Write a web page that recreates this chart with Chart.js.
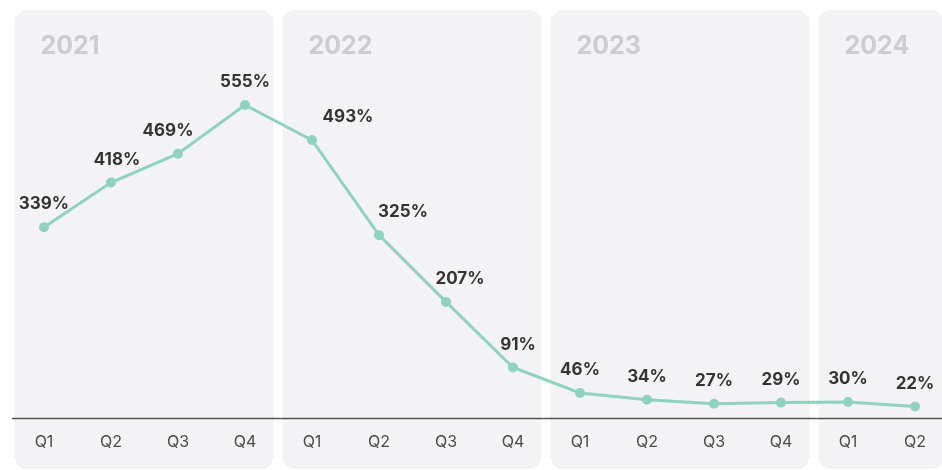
<!DOCTYPE html>
<html>
<head>
<meta charset="utf-8">
<script src="https://cdn.jsdelivr.net/npm/chart.js@4.4.1/dist/chart.umd.min.js"></script>
<style>
  html, body { margin: 0; padding: 0; background: #fff; }
  canvas { display: block; }
</style>
</head>
<body>
<canvas id="growthChart" width="942" height="470"></canvas>
<script>
// quarterly growth, one entry per quarter
const quarters = ['Q1', 'Q2', 'Q3', 'Q4', 'Q1', 'Q2', 'Q3', 'Q4', 'Q1', 'Q2', 'Q3', 'Q4', 'Q1', 'Q2'];
const years = ['2021', '2021', '2021', '2021', '2022', '2022', '2022', '2022', '2023', '2023', '2023', '2023', '2024', '2024'];
const growth = [339, 418, 469, 555, 493, 325, 207, 91, 46, 34, 27, 29, 30, 22];

// small sideways nudges so a few labels don't sit on the line
const labelShift = [0, 6, -10, 0, 36, 24, 14, 5, 0, 0, 0, 0, 0, 0];

const FONT = 'Inter, "Noto Sans", sans-serif';
const teal = '#8fd3bf';

// grey rounded panel behind each year + the baseline
const yearPanels = {
  id: 'yearPanels',
  beforeDraw(chart) {
    const { ctx, scales: { x } } = chart;
    const step = x.getPixelForValue(1) - x.getPixelForValue(0);
    const groups = [];
    years.forEach((y, i) => {
      const last = groups[groups.length - 1];
      if (last && last.year === y) last.end = i;
      else groups.push({ year: y, start: i, end: i });
    });
    ctx.save();
    groups.forEach(g => {
      const left = x.getPixelForValue(g.start) - step / 2 + 4;
      const right = x.getPixelForValue(g.end) + step / 2 - 5;
      ctx.fillStyle = '#f3f3f5';
      ctx.beginPath();
      ctx.roundRect(left, 10, right - left, 459, 12);
      ctx.fill();
      ctx.fillStyle = '#cdcdcf';
      ctx.font = 'bold 25px ' + FONT;
      ctx.textBaseline = 'middle';
      ctx.textAlign = 'left';
      ctx.fillText(g.year, left + 26, 46);
    });
    ctx.strokeStyle = '#555';
    ctx.lineWidth = 1.5;
    ctx.beginPath();
    ctx.moveTo(12, 418.5);
    ctx.lineTo(942, 418.5);
    ctx.stroke();
    ctx.restore();
  }
};

// percentage labels above each point
const valueLabels = {
  id: 'valueLabels',
  afterDatasetsDraw(chart) {
    const { ctx } = chart;
    const pts = chart.getDatasetMeta(0).data;
    ctx.save();
    ctx.fillStyle = '#333';
    ctx.font = 'bold 17px ' + FONT;
    ctx.textAlign = 'center';
    ctx.textBaseline = 'middle';
    pts.forEach((p, i) => {
      ctx.fillText(growth[i] + '%', p.x + labelShift[i], p.y - 23);
    });
    ctx.restore();
  }
};

const ctx = document.getElementById('growthChart').getContext('2d');
new Chart(ctx, {
  type: 'line',
  data: {
    labels: quarters,
    datasets: [{
      data: growth,
      borderColor: teal,
      backgroundColor: teal,
      borderWidth: 3,
      pointRadius: 5,
      pointBackgroundColor: teal,
      pointBorderWidth: 0,
      tension: 0
    }]
  },
  options: {
    responsive: false,
    animation: false,
    layout: { padding: { left: 44, right: 27, top: 23, bottom: 0 } },
    plugins: { legend: { display: false }, tooltip: { enabled: false } },
    scales: {
      x: {
        offset: false,
        grid: { display: false, drawTicks: false },
        border: { display: false },
        ticks: { color: '#4a4a4a', font: { family: FONT, size: 16 }, padding: 14, maxRotation: 0, autoSkip: false },
        afterFit(scale) { scale.height = 51; }
      },
      y: {
        display: false,
        min: 0,
        max: 700
      }
    }
  },
  plugins: [yearPanels, valueLabels]
});
</script>
</body>
</html>
